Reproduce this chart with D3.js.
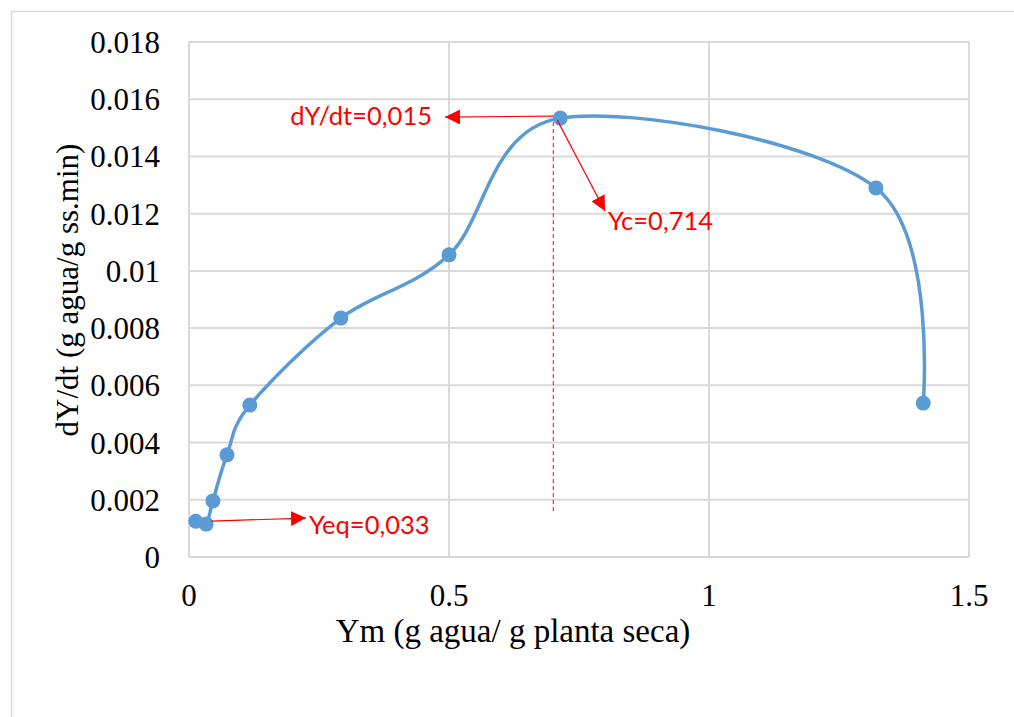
<!DOCTYPE html>
<html>
<head>
<meta charset="utf-8">
<script src="https://cdn.jsdelivr.net/npm/d3@7"></script>
<style>
  body { margin: 0; background: #fff; }
  svg { display: block; }
</style>
</head>
<body>
<svg id="chart" width="1014" height="717"></svg>
<script>
// data
var ymValues = [0.013, 0.033, 0.046, 0.073, 0.117, 0.292, 0.5, 0.714, 1.321, 1.412];
var rateValues = [0.00125, 0.00115, 0.00196, 0.00357, 0.00531, 0.00835, 0.01056, 0.01534, 0.0129, 0.00538];
var xTicks = [0, 0.5, 1, 1.5];
var yTicks = [0, 0.002, 0.004, 0.006, 0.008, 0.01, 0.012, 0.014, 0.016, 0.018];
var yTickLabels = ["0", "0.002", "0.004", "0.006", "0.008", "0.01", "0.012", "0.014", "0.016", "0.018"];
var ycValue = 0.714, rateAtYc = 0.01534, yeqValue = 0.033, rateAtYeq = 0.00115;

var svg = d3.select("#chart");
var plotLeft = 189, plotRight = 969, plotTop = 42, plotBottom = 557;
var gridColor = "#d9d9d9";
var red = "#ff0000";

var xScale = d3.scaleLinear().domain([0, 1.5]).range([plotLeft, plotRight]);
var yScale = d3.scaleLinear().domain([0, 0.018]).range([plotBottom, plotTop]);

// outer chart border (runs off the page on right and bottom)
svg.append("rect")
    .attr("x", 11.5).attr("y", 11.5)
    .attr("width", 1020).attr("height", 720)
    .attr("fill", "none").attr("stroke", gridColor).attr("stroke-width", 1.5);

// gridlines
svg.append("g").selectAll("line").data(yTicks).enter().append("line")
    .attr("x1", plotLeft).attr("x2", plotRight)
    .attr("y1", function (d) { return yScale(d); })
    .attr("y2", function (d) { return yScale(d); })
    .attr("stroke", gridColor).attr("stroke-width", 2);
svg.append("g").selectAll("line").data(xTicks).enter().append("line")
    .attr("y1", plotTop).attr("y2", plotBottom)
    .attr("x1", function (d) { return xScale(d); })
    .attr("x2", function (d) { return xScale(d); })
    .attr("stroke", gridColor).attr("stroke-width", 2);

// tick labels
svg.append("g").selectAll("text").data(yTicks).enter().append("text")
    .attr("x", 160)
    .attr("y", function (d) { return yScale(d) + 11; })
    .attr("text-anchor", "end")
    .attr("font-family", "Liberation Serif")
    .attr("font-size", 31)
    .text(function (d, i) { return yTickLabels[i]; });
svg.append("g").selectAll("text").data(xTicks).enter().append("text")
    .attr("x", function (d) { return xScale(d); })
    .attr("y", 606)
    .attr("text-anchor", "middle")
    .attr("font-family", "Liberation Serif")
    .attr("font-size", 31)
    .text(function (d) { return d; });

// axis titles
svg.append("text")
    .attr("x", 513).attr("y", 642)
    .attr("text-anchor", "middle")
    .attr("font-family", "Liberation Serif")
    .attr("font-size", 33)
    .text("Ym (g agua/ g planta seca)");
svg.append("text")
    .attr("transform", "translate(78,290) rotate(-90)")
    .attr("text-anchor", "middle")
    .attr("font-family", "Liberation Serif")
    .attr("font-size", 31)
    .text("dY/dt (g agua/g ss.min)");

// arrow marker
svg.append("defs").append("marker")
    .attr("id", "arrowHead")
    .attr("viewBox", "0 0 10 10")
    .attr("refX", 10).attr("refY", 5)
    .attr("markerWidth", 15).attr("markerHeight", 15)
    .attr("markerUnits", "userSpaceOnUse")
    .attr("orient", "auto")
    .append("path").attr("d", "M0,0 L10,5 L0,10 Z").attr("fill", red);

// dashed line at Yc
svg.append("line")
    .attr("x1", xScale(ycValue) - 7).attr("x2", xScale(ycValue) - 7)
    .attr("y1", yScale(rateAtYc) + 4).attr("y2", 513)
    .attr("stroke", red).attr("stroke-width", 1).attr("stroke-dasharray", "4,3");

// series line (smoothed like the spreadsheet)
var points = ymValues.map(function (v, i) { return [v, rateValues[i]]; });
var lineGen = d3.line()
    .x(function (d) { return xScale(d[0]); })
    .y(function (d) { return yScale(d[1]); })
    .curve(d3.curveCatmullRom.alpha(0));
svg.append("path").datum(points)
    .attr("d", lineGen)
    .attr("fill", "none").attr("stroke", "#5b9bd5").attr("stroke-width", 3.5);

svg.append("g").selectAll("circle").data(points).enter().append("circle")
    .attr("cx", function (d) { return xScale(d[0]); })
    .attr("cy", function (d) { return yScale(d[1]); })
    .attr("r", 7.5)
    .attr("fill", "#5b9bd5");

// annotations
var ycX = xScale(ycValue), ycY = yScale(rateAtYc);
svg.append("line")
    .attr("x1", ycX - 7).attr("y1", ycY - 2)
    .attr("x2", 445).attr("y2", ycY - 1)
    .attr("stroke", red).attr("stroke-width", 1.2)
    .attr("marker-end", "url(#arrowHead)");
svg.append("line")
    .attr("x1", ycX - 3).attr("y1", ycY + 2)
    .attr("x2", 605).attr("y2", 211)
    .attr("stroke", red).attr("stroke-width", 1.2)
    .attr("marker-end", "url(#arrowHead)");
var yeqX = xScale(yeqValue), yeqY = yScale(rateAtYeq);
svg.append("line")
    .attr("x1", yeqX + 5).attr("y1", yeqY - 3)
    .attr("x2", 306).attr("y2", yeqY - 6)
    .attr("stroke", red).attr("stroke-width", 1.2)
    .attr("marker-end", "url(#arrowHead)");

var noteFont = "Lato";
var noteSize = 25.5;
svg.append("text")
    .attr("x", 432).attr("y", 125)
    .attr("text-anchor", "end")
    .attr("font-family", noteFont).attr("font-size", noteSize)
    .attr("fill", red)
    .text("dY/dt=0,015");
svg.append("text")
    .attr("x", 608).attr("y", 230)
    .attr("font-family", noteFont).attr("font-size", noteSize)
    .attr("fill", red)
    .text("Yc=0,714");
svg.append("text")
    .attr("x", 309).attr("y", 534)
    .attr("font-family", noteFont).attr("font-size", noteSize)
    .attr("fill", red)
    .text("Yeq=0,033");
</script>
</body>
</html>
